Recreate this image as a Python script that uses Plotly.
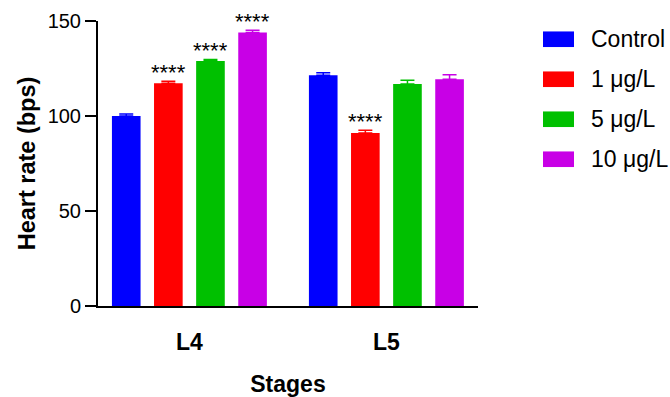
import plotly.graph_objects as go

categories = ["L4", "L5"]
series_names = ["Control", "1 µg/L", "5 µg/L", "10 µg/L"]
control_vals = [100.0, 121.5]
control_err = [1.0, 1.2]
one_vals = [117.2, 91.0]
one_err = [1.1, 1.5]
five_vals = [128.9, 116.8]
five_err = [0.9, 2.0]
ten_vals = [143.9, 119.3]
ten_err = [1.2, 2.4]
one_sig = ["****", "****"]
five_sig = ["****", ""]
ten_sig = ["****", ""]
colors = ["#0000FF", "#FF0000", "#00C000", "#C800E6"]

values = [control_vals, one_vals, five_vals, ten_vals]
errors = [control_err, one_err, five_err, ten_err]
sigs = [["", ""], one_sig, five_sig, ten_sig]

BARGAP = 0.145
BARGROUPGAP = 0.32
FONT = "Liberation Sans, Arial, sans-serif"

fig = go.Figure()
for name, vals, errs, col in zip(series_names, values, errors, colors):
    fig.add_trace(go.Bar(
        x=categories, y=vals, name=name,
        marker=dict(color=col, line=dict(width=0)),
        error_y=dict(type="data", symmetric=False, array=errs,
                     arrayminus=[0] * len(errs), color=col,
                     thickness=1.5, width=7),
        cliponaxis=False, showlegend=False,
    ))

# significance annotations
n = len(series_names)
slot = (1 - BARGAP) / n
annotations = []
for i, (vals, errs, sg) in enumerate(zip(values, errors, sigs)):
    for j, s in enumerate(sg):
        if not s:
            continue
        annotations.append(dict(
            x=j + (i - (n - 1) / 2) * slot, y=vals[j] + errs[j],
            xref="x", yref="y", text=s, showarrow=False,
            yanchor="bottom", yshift=-6,
            font=dict(family=FONT, size=22, color="black"),
        ))

# custom legend
leg_y0 = 0.936
leg_dy = 40 / 285
shapes = []
for k, (name, col) in enumerate(zip(series_names, colors)):
    yc = leg_y0 - k * leg_dy
    shapes.append(dict(type="rect", xref="paper", yref="paper",
                       x0=(543 - 98) / 380, x1=(574 - 98) / 380,
                       y0=yc - 7.8 / 285, y1=yc + 7.8 / 285,
                       fillcolor=col, line=dict(width=0)))
    annotations.append(dict(x=(589 - 98) / 380, y=yc, xref="paper", yref="paper",
                            text=name.replace("µ", "μ"), showarrow=False,
                            xanchor="left", yanchor="middle",
                            font=dict(family=FONT, size=23, color="black")))

fig.update_layout(
    width=670, height=397,
    margin=dict(l=98, r=192, t=21, b=91),
    paper_bgcolor="white", plot_bgcolor="white",
    barmode="group", bargap=BARGAP, bargroupgap=BARGROUPGAP,
    font=dict(family=FONT, color="black"),
    annotations=annotations, shapes=shapes,
    showlegend=False,
)
fig.update_xaxes(
    type="category", range=[-0.464, 1.465], automargin=False,
    showline=True, linecolor="black", linewidth=2,
    ticks="", showgrid=False, zeroline=False,
    tickfont=dict(family=FONT, size=23, color="black", weight="bold"),
    ticklabelstandoff=14,
    title=dict(text="<b>Stages</b>", standoff=26,
               font=dict(family=FONT, size=23, color="black")),
)
fig.update_yaxes(
    range=[0, 150], tickvals=[0, 50, 100, 150], automargin=False,
    showline=True, linecolor="black", linewidth=2,
    ticks="outside", ticklen=11, tickwidth=1.5, tickcolor="black",
    showgrid=False, zeroline=False,
    tickfont=dict(family=FONT, size=20, color="black"),
    title=dict(text="<b>Heart rate (bps)</b>", standoff=5,
               font=dict(family=FONT, size=23.5, color="black")),
)

fig.write_html("out.html", config={"displayModeBar": False},
               post_script="document.body.style.margin='0';document.body.style.overflow='hidden';")
